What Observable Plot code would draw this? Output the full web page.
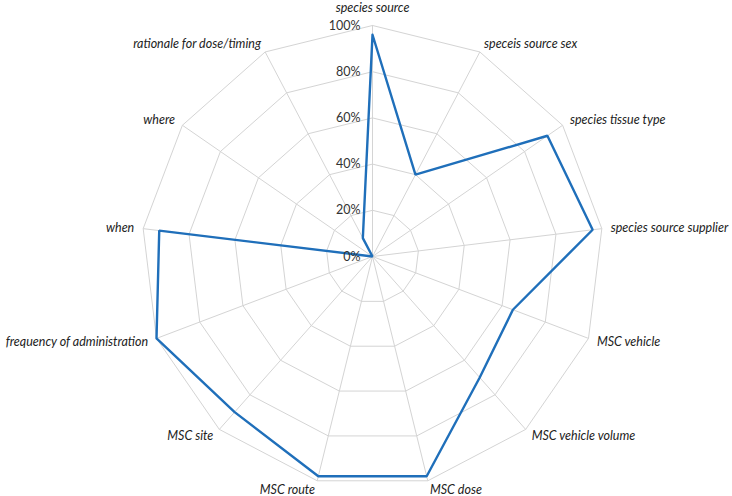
<!DOCTYPE html>
<html><head><meta charset="utf-8">
<script src="https://cdn.jsdelivr.net/npm/d3@7"></script>
<script src="https://cdn.jsdelivr.net/npm/@observablehq/plot@0.6"></script>
<style>body{margin:0;background:#fff}</style>
</head><body><div id="chart"></div>
<script>
const categories = ["species source","speceis source sex","species tissue type","species source supplier","MSC vehicle","MSC vehicle volume","MSC dose","MSC route","MSC site","frequency of administration","when","where","rationale for dose/timing"];
const values = [96,40,92,96,65,70,98,98,90,100,93,0,9];
const ticks = [0,20,40,60,80,100];
const tickLabels = ["0%","20%","40%","60%","80%","100%"];

const W = 732, H = 496, cx = 372, cy = 256, R = 231;
const n = categories.length;
const ang = i => i * 2 * Math.PI / n;
const pt = (i, v) => ({x: Math.sin(ang(i)) * v / 100, y: Math.cos(ang(i)) * v / 100});

const rings = ticks.slice(1).flatMap(t => d3.range(n + 1).map(i => ({ring: t, ...pt(i % n, t)})));
const spokes = categories.map((c, i) => ({c, x1: 0, y1: 0, x2: pt(i, 100).x, y2: pt(i, 100).y}));
const series = d3.range(n + 1).map(i => pt(i % n, values[i % n]));
const off = 9 / R;
const labels = categories.map((c, i) => {
  const s = Math.sin(ang(i)), co = Math.cos(ang(i));
  const top = Math.abs(s) < 0.1;
  return {c, s, x: s * (1 + off), y: co * (1 + off) + (top ? off : 0),
    anchor: top ? "middle" : (s > 0 ? "start" : "end")};
});
const tickData = ticks.map((t, i) => ({label: tickLabels[i], x: 0, y: t / 100}));

const font = "Lato, 'Open Sans', sans-serif";
const plot = Plot.plot({
  width: W, height: H,
  margin: 0,
  x: {domain: [-cx / R, (W - cx) / R], axis: null},
  y: {domain: [-(H - cy) / R, cy / R], axis: null},
  style: {fontFamily: font, background: "#fff"},
  marks: [
    Plot.line(rings, {x: "x", y: "y", z: "ring", stroke: "#d4d4d4", strokeWidth: 1}),
    Plot.link(spokes, {x1: "x1", y1: "y1", x2: "x2", y2: "y2", stroke: "#d4d4d4", strokeWidth: 1}),
    Plot.line(series, {x: "x", y: "y", stroke: "#1f6fba", strokeWidth: 2.4, strokeLinejoin: "miter"}),
    Plot.text(tickData, {x: "x", y: "y", text: "label", textAnchor: "end", dx: -12, fontSize: 12.5, fill: "#333"}),
    ...["start", "middle", "end"].map(a =>
      Plot.text(labels.filter(d => d.anchor === a), {x: "x", y: "y", text: "c", textAnchor: a, fontSize: 12.5, fontStyle: "italic", fill: "#222"}))
  ]
});
document.getElementById("chart").append(plot);
</script>
</body></html>
